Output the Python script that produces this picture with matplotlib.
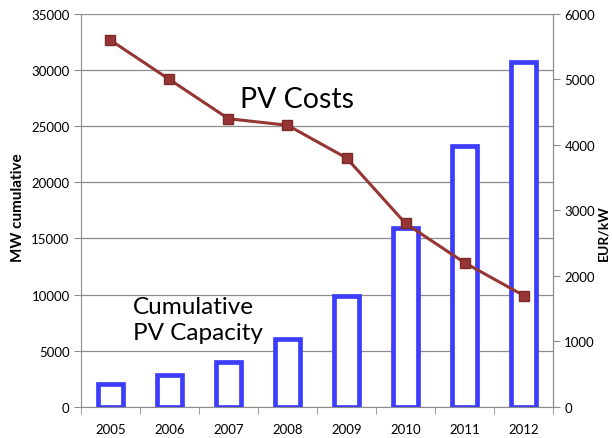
import matplotlib.pyplot as plt
import numpy as np

plt.rcParams['font.family'] = ['Lato', 'DejaVu Sans']

years = ['2005', '2006', '2007', '2008', '2009', '2010', '2011', '2012']
capacity_mw = [2000, 2800, 4000, 6000, 9900, 15900, 23200, 30700]
cost_eur_kw = [5600, 5000, 4400, 4300, 3800, 2800, 2200, 1700]

grey = '#8c8c8c'
x = np.arange(len(years))

fig = plt.figure(figsize=(6.12, 4.39), dpi=100)
ax = fig.add_axes([0.132, 0.071, 0.772, 0.895])

ax.bar(x, capacity_mw, width=0.42, facecolor='white', edgecolor='#3d3dff',
       linewidth=3.4, zorder=3)
ax.set_ylim(0, 35000)
ax.set_yticks(range(0, 35001, 5000))
ax.set_xlim(-0.5, len(years) - 0.5)
ax.set_xticks(x)
ax.set_xticklabels(years)
ax.set_xticks(np.arange(-0.5, len(years)), minor=True)
ax.tick_params(axis='x', which='major', length=0, pad=12, labelsize=9.5)
ax.tick_params(axis='x', which='minor', length=5, color=grey)
ax.tick_params(axis='y', length=5, color=grey, labelsize=9.5, pad=3)
ax.grid(axis='y', color=grey, linewidth=0.9, zorder=0)
ax.set_axisbelow(True)
ax.spines['top'].set_visible(False)
for s in ['left', 'bottom', 'right']:
    ax.spines[s].set_color(grey)
ax.set_ylabel('MW cumulative', fontweight='bold', fontsize=11)
ax.yaxis.set_label_coords(-0.118, 0.51)

ax2 = ax.twinx()
ax2.plot(x, cost_eur_kw, color='#963634', linewidth=2.2, marker='s',
         markersize=7, markerfacecolor='#963634', markeredgecolor='#7a2a28', zorder=4)
ax2.set_ylim(0, 6000)
ax2.set_yticks(range(0, 6001, 1000))
ax2.tick_params(axis='y', length=5, color=grey, labelsize=9.5, pad=3)
for s in ['top', 'left', 'bottom']:
    ax2.spines[s].set_visible(False)
ax2.spines['right'].set_color(grey)
ax2.set_ylabel('EUR/kW', fontweight='bold', fontsize=10)
ax2.yaxis.set_label_coords(1.093, 0.445)

ax.text(2.2, 27400, 'PV Costs', fontsize=20.5, ha='left', va='center', zorder=5)
ax.text(0.38, 7800, 'Cumulative\nPV Capacity', fontsize=17.5, ha='left', va='center',
        linespacing=1.3, zorder=5)

fig.savefig('out.png', dpi=100)
